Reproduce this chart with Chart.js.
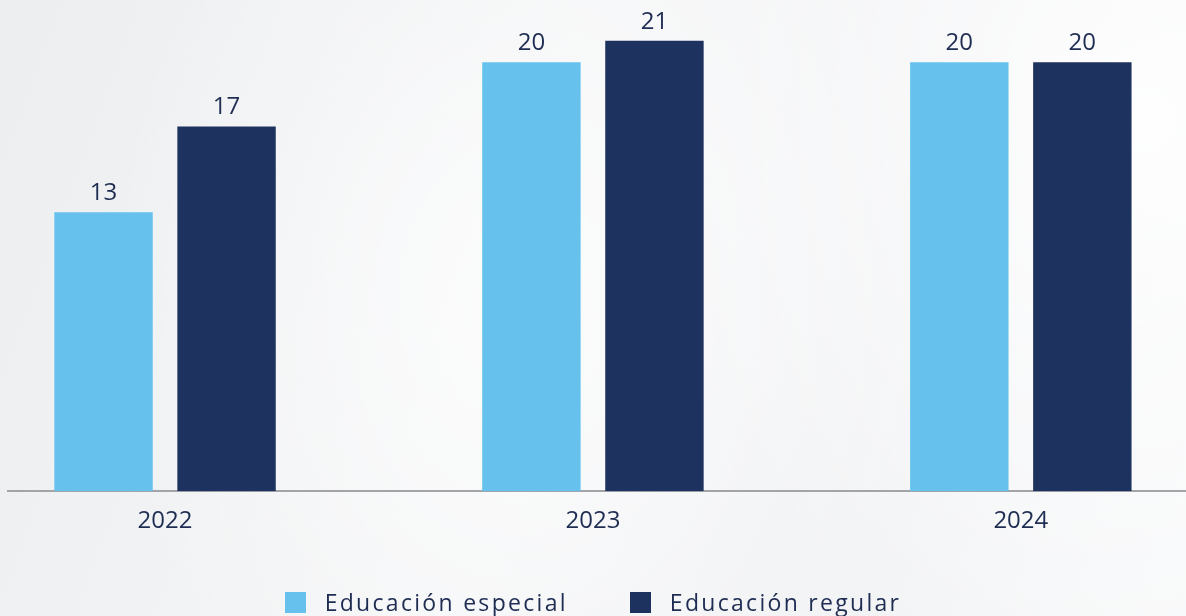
<!DOCTYPE html>
<html>
<head>
<meta charset="utf-8">
<script src="https://cdn.jsdelivr.net/npm/chart.js@4"></script>
<style>
  html, body { margin: 0; padding: 0; }
  body {
    width: 1186px; height: 616px; overflow: hidden;
    font-family: 'Open Sans', sans-serif;
    background:
      radial-gradient(ellipse 700px 900px at 1150px 120px, rgba(255,255,255,0.9) 0%, rgba(255,255,255,0.0) 70%),
      radial-gradient(ellipse 600px 800px at 520px 300px, rgba(255,255,255,0.7) 0%, rgba(255,255,255,0.0) 70%),
      linear-gradient(110deg, #eceef0 0%, #f4f5f6 45%, #f1f2f4 70%, #f7f8f9 100%);
  }
  #wrap { position: relative; width: 1186px; height: 616px; }
  #legend {
    position: absolute; left: 0; right: 0; top: 587px;
    display: flex; justify-content: center; gap: 62px;
    color: #1f2d52; font-size: 23px; letter-spacing: 2.3px; line-height: 30px;
  }
  #legend span.item { display: flex; align-items: center; }
  #legend span.box { display: inline-block; width: 21px; height: 21px; margin-right: 19px; }
</style>
</head>
<body>
<div id="wrap"><canvas id="myChart"></canvas><div id="legend"></div></div>
<script>
const years = ['2022', '2023', '2024'];
const especial = [13, 20, 20];
const regular = [17, 21, 20];
const seriesNames = ['Educación especial', 'Educación regular'];
const seriesColors = ['#66c2ed', '#1d325e'];

const textColor = '#1f2d52';
const fontFamily = "'Open Sans', sans-serif";

// value labels above each bar
const valueLabels = {
  id: 'valueLabels',
  afterDatasetsDraw(chart) {
    const ctx = chart.ctx;
    ctx.save();
    ctx.font = '400 24px ' + fontFamily;
    ctx.fillStyle = textColor;
    ctx.textAlign = 'center';
    ctx.textBaseline = 'bottom';
    chart.data.datasets.forEach((ds, i) => {
      chart.getDatasetMeta(i).data.forEach((bar, j) => {
        ctx.fillText(ds.data[j].y, bar.x, bar.y - 7);
      });
    });
    ctx.restore();
  }
};

const myChart = document.getElementById('myChart');

let barChart = new Chart(myChart, {
  type: 'bar',
  data: {
    datasets: [{
      label: seriesNames[0],
      data: especial.map((v, i) => ({x: i, y: v})),
      backgroundColor: seriesColors[0]
    }, {
      label: seriesNames[1],
      data: regular.map((v, i) => ({x: i, y: v})),
      backgroundColor: seriesColors[1]
    }]
  },
  options: {
    responsive: true,
    maintainAspectRatio: false,
    animation: false,
    layout: { padding: { left: 8, right: 0, top: 0, bottom: 64 } },
    datasets: {
      bar: { categoryPercentage: 0.575, barPercentage: 0.8 }
    },
    scales: {
      x: {
        type: 'linear',
        offset: false,
        min: -0.367,
        max: 2.386,
        afterBuildTicks: axis => { axis.ticks = years.map((y, i) => ({value: i})); },
        grid: { display: false, drawTicks: false },
        border: { color: '#a3a4a8', width: 2 },
        ticks: {
          padding: 16,
          color: textColor,
          font: { family: fontFamily, size: 24 },
          callback: v => years[v]
        }
      },
      y: {
        display: false,
        min: 0,
        max: 22.9
      }
    },
    plugins: {
      tooltip: { enabled: false },
      legend: { display: false }
    }
  },
  plugins: [valueLabels]
});

// legend as html
const legendEl = document.getElementById('legend');
seriesNames.forEach((name, i) => {
  const item = document.createElement('span');
  item.className = 'item';
  const box = document.createElement('span');
  box.className = 'box';
  box.style.background = seriesColors[i];
  item.appendChild(box);
  item.appendChild(document.createTextNode(name));
  legendEl.appendChild(item);
});
</script>
</body>
</html>
